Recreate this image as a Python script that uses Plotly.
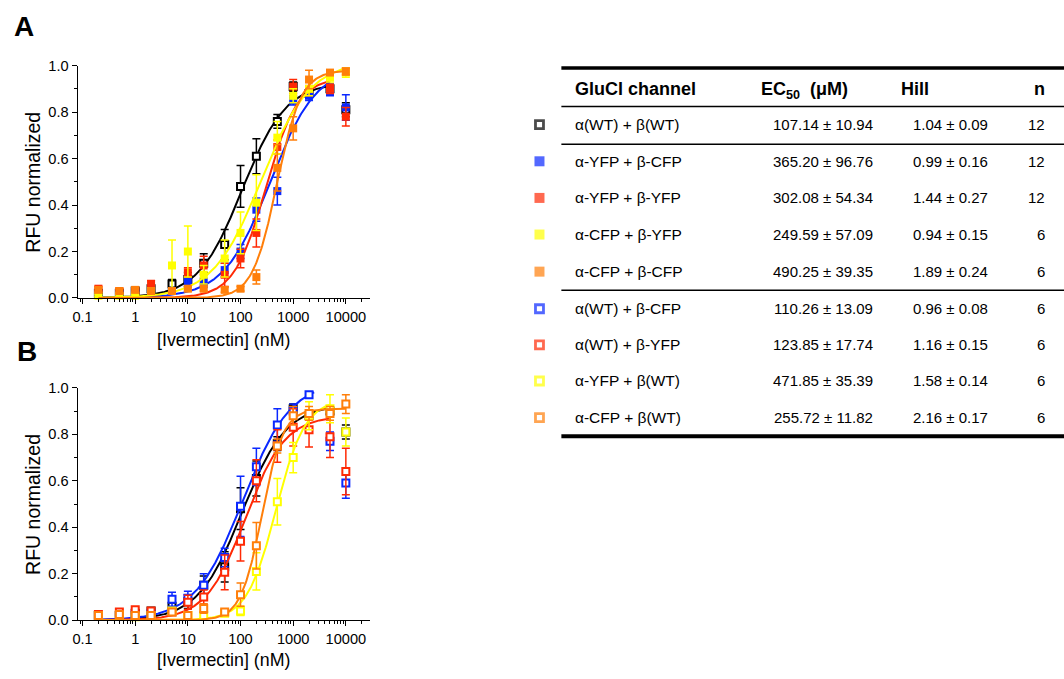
import numpy as np
import plotly.graph_objects as go

# ---------------- data ----------------
conc = [0.2, 0.5, 1, 2, 5, 10, 20, 50, 100, 200, 500, 1000, 2000, 5000, 10000]

# Panel A
a_wt_wt = [0.02, 0.02, 0.03, 0.04, 0.06, 0.08, 0.15, 0.23, 0.48, 0.61, 0.76, 0.91, 0.88, 0.90, 0.81]
a_wt_wt_err = [0.01, 0.01, 0.01, 0.01, 0.02, 0.03, 0.04, 0.065, 0.09, 0.075, 0.03, 0.02, 0.02, 0.02, 0.03]
a_yfp_cfp = [0.02, 0.02, 0.02, 0.03, 0.03, 0.07, 0.065, 0.12, 0.20, 0.38, 0.46, 0.85, 0.87, 0.89, 0.82]
a_yfp_cfp_err = [0.01, 0.01, 0.01, 0.01, 0.01, 0.02, 0.02, 0.03, 0.03, 0.05, 0.06, 0.02, 0.02, 0.02, 0.055]
a_yfp_yfp = [0.04, 0.03, 0.03, 0.06, 0.03, 0.11, 0.14, 0.10, 0.17, 0.28, 0.65, 0.91, 0.90, 0.90, 0.78]
a_yfp_yfp_err = [0.01, 0.01, 0.01, 0.015, 0.01, 0.02, 0.04, 0.05, 0.04, 0.06, 0.03, 0.03, 0.03, 0.02, 0.04]
a_cfp_yfp = [0.01, 0.01, 0.01, 0.03, 0.14, 0.20, 0.10, 0.17, 0.28, 0.41, 0.69, 0.87, 0.90, 0.95, 0.97]
a_cfp_yfp_err = [0.005, 0.005, 0.005, 0.01, 0.11, 0.11, 0.04, 0.08, 0.09, 0.12, 0.07, 0.03, 0.03, 0.02, 0.02]
a_cfp_cfp = [0.035, 0.03, 0.035, 0.03, 0.03, 0.04, 0.04, 0.035, 0.04, 0.09, 0.56, 0.73, 0.94, 0.97, 0.975]
a_cfp_cfp_err = [0.01, 0.01, 0.01, 0.01, 0.01, 0.01, 0.01, 0.01, 0.01, 0.03, 0.10, 0.05, 0.04, 0.01, 0.015]

# Panel B
b_wt_wt = a_wt_wt
b_wt_wt_err = a_wt_wt_err
b_wt_cfp = [0.02, 0.02, 0.02, 0.03, 0.09, 0.095, 0.15, 0.27, 0.49, 0.66, 0.84, 0.90, 0.97, 0.77, 0.59]
b_wt_cfp_err = [0.01, 0.01, 0.01, 0.01, 0.03, 0.03, 0.05, 0.04, 0.13, 0.08, 0.07, 0.03, 0.01, 0.04, 0.065]
b_wt_yfp = [0.025, 0.035, 0.045, 0.04, 0.035, 0.077, 0.10, 0.206, 0.34, 0.60, 0.75, 0.83, 0.82, 0.79, 0.64]
b_wt_yfp_err = [0.01, 0.01, 0.01, 0.01, 0.01, 0.03, 0.03, 0.075, 0.085, 0.09, 0.07, 0.08, 0.075, 0.09, 0.10]
b_yfp_wt = [0.02, 0.02, 0.015, 0.02, 0.04, 0.02, 0.02, 0.03, 0.04, 0.21, 0.51, 0.70, 0.88, 0.91, 0.81]
b_yfp_wt_err = [0.005, 0.005, 0.005, 0.005, 0.01, 0.01, 0.01, 0.01, 0.02, 0.08, 0.10, 0.065, 0.06, 0.06, 0.06]
b_cfp_wt = [0.02, 0.025, 0.02, 0.02, 0.035, 0.02, 0.05, 0.035, 0.11, 0.32, 0.75, 0.88, 0.89, 0.89, 0.93]
b_cfp_wt_err = [0.005, 0.005, 0.005, 0.005, 0.01, 0.01, 0.02, 0.01, 0.05, 0.10, 0.03, 0.04, 0.03, 0.03, 0.04]

# Table
channels = ["α(WT) + β(WT)", "α-YFP + β-CFP", "α-YFP + β-YFP", "α-CFP + β-YFP", "α-CFP + β-CFP",
            "α(WT) + β-CFP", "α(WT) + β-YFP", "α-YFP + β(WT)", "α-CFP + β(WT)"]
ec50 = [107.14, 365.20, 302.08, 249.59, 490.25, 110.26, 123.85, 471.85, 255.72]
ec50_sem = [10.94, 96.76, 54.34, 57.09, 39.35, 13.09, 17.74, 35.39, 11.82]
hill = [1.04, 0.99, 1.44, 0.94, 1.89, 0.96, 1.16, 1.58, 2.16]
hill_sem = [0.09, 0.16, 0.27, 0.15, 0.24, 0.08, 0.15, 0.14, 0.17]
n_cells = [12, 12, 12, 6, 6, 6, 6, 6, 6]
# fitted plateau and last concentration of each drawn fit
fit_top = [0.93, 1.00, 0.95, 1.02, 0.98, 1.03, 0.88, 0.95, 0.91]
fit_end = [5000, 5000, 5000, 10000, 10000, 2500, 5000, 5000, 10000]

x_ticks = [0.1, 1, 10, 100, 1000, 10000]
x_tick_labels = ["0.1", "1", "10", "100", "1000", "10000"]
y_ticks = [0.0, 0.2, 0.4, 0.6, 0.8, 1.0]
y_tick_labels = ["0.0", "0.2", "0.4", "0.6", "0.8", "1.0"]

# ---------------- style ----------------
BLACK = "#000000"
BLUE = "#0a28ff"
RED = "#ff2a05"
YELLOW = "#ffff00"
ORANGE = "#ff7f0a"
FONT = "Liberation Sans, Arial, sans-serif"
W, H = 1064, 679

colors = [BLACK, BLUE, RED, YELLOW, ORANGE, BLUE, RED, YELLOW, ORANGE]
filled = [False, True, True, True, True, False, False, False, False]


def px(x):
    return x / W


def py(y):
    return 1 - y / H


fig = go.Figure()


def add_series(y, err, color, solid, xa, ya, idx):
    e = ec50[idx]
    h = hill[idx]
    top = fit_top[idx]
    xs = np.logspace(np.log10(conc[0]), np.log10(fit_end[idx]), 300)
    ys = top / (1 + (e / xs) ** h)
    fig.add_trace(go.Scatter(x=xs.tolist(), y=ys.tolist(), mode="lines",
                             line=dict(color=color, width=2),
                             xaxis=xa, yaxis=ya, showlegend=False, hoverinfo="skip"))
    fig.add_trace(go.Scatter(
        x=conc, y=y, mode="markers", xaxis=xa, yaxis=ya, showlegend=False, cliponaxis=False,
        error_y=dict(type="data", array=err, visible=True, color=color, thickness=1.5, width=4),
        marker=dict(symbol="square", size=8 if solid else 7,
                    color=color if solid else "white",
                    line=dict(color=color, width=0 if solid else 2))))


# Panel A: black, blue, red, yellow, orange
add_series(a_wt_wt, a_wt_wt_err, BLACK, False, "x", "y", 0)
add_series(a_yfp_cfp, a_yfp_cfp_err, BLUE, True, "x", "y", 1)
add_series(a_yfp_yfp, a_yfp_yfp_err, RED, True, "x", "y", 2)
add_series(a_cfp_yfp, a_cfp_yfp_err, YELLOW, True, "x", "y", 3)
add_series(a_cfp_cfp, a_cfp_cfp_err, ORANGE, True, "x", "y", 4)

# Panel B
add_series(b_wt_wt, b_wt_wt_err, BLACK, False, "x2", "y2", 0)
add_series(b_wt_cfp, b_wt_cfp_err, BLUE, False, "x2", "y2", 5)
add_series(b_wt_yfp, b_wt_yfp_err, RED, False, "x2", "y2", 6)
add_series(b_yfp_wt, b_yfp_wt_err, YELLOW, False, "x2", "y2", 7)
add_series(b_cfp_wt, b_cfp_wt_err, ORANGE, False, "x2", "y2", 8)

# ---------------- axes ----------------
xcommon = dict(type="log", range=[-1.093, 4.464], showline=True, linecolor=BLACK, linewidth=1.3,
               ticks="outside", ticklen=5, tickwidth=1.3, tickcolor=BLACK,
               tickmode="array", tickvals=x_ticks, ticktext=x_tick_labels,
               tickfont=dict(family=FONT, size=14.6, color=BLACK),
               showgrid=False, zeroline=False,
               minor=dict(dtick="D1", ticks="outside", ticklen=3,
                          tickwidth=1, tickcolor=BLACK, showgrid=False),
               domain=[px(73), px(367)])
ycommon = dict(range=[0, 1.0], showline=True, linecolor=BLACK, linewidth=1.3,
               ticks="outside", ticklen=5, tickwidth=1.3, tickcolor=BLACK,
               tickmode="array", tickvals=y_ticks, ticktext=y_tick_labels,
               tickfont=dict(family=FONT, size=14.6, color=BLACK),
               showgrid=False, zeroline=False,
               minor=dict(dtick=0.1, ticks="outside",
                          ticklen=3, tickwidth=1, tickcolor=BLACK, showgrid=False))

fig.update_layout(
    xaxis=dict(**xcommon, anchor="y"),
    yaxis=dict(**ycommon, anchor="x", domain=[py(297), py(59)]),
    xaxis2=dict(**xcommon, anchor="y2"),
    yaxis2=dict(**ycommon, anchor="x2", domain=[py(627), py(389)]),
    xaxis3=dict(range=[520, W], domain=[px(520), 1], visible=False, anchor="y3", fixedrange=True),
    yaxis3=dict(range=[H, 0], domain=[0, 1], visible=False, anchor="x3", fixedrange=True),
)

# ---------------- table ----------------
row_y = [119.5, 157, 194.5, 232, 270, 308, 345, 382, 419.5]
fig.add_trace(go.Scatter(
    x=[537] * len(channels), y=row_y, mode="markers", xaxis="x3", yaxis="y3", showlegend=False,
    hoverinfo="skip", cliponaxis=False,
    marker=dict(symbol="square", size=[10 if f else 8 for f in filled],
                color=[c if f else "white" for c, f in zip(colors, filled)],
                line=dict(color=colors, width=[0 if f else 2.8 for f in filled]))))

ann = []
shapes = []


def text(x, y, s, size=14, anchor="left", bold=False, angle=0):
    ann.append(dict(x=px(x), y=py(y), xref="paper", yref="paper", text=f"<b>{s}</b>" if bold else s,
                    showarrow=False, xanchor=anchor, yanchor="middle", textangle=angle,
                    font=dict(family=FONT, size=size, color=BLACK)))


def hline(y, x0, x1, w, color=BLACK):
    shapes.append(dict(type="line", xref="paper", yref="paper", x0=px(x0), x1=px(x1),
                       y0=py(y), y1=py(y), line=dict(color=color, width=w)))


hline(61.5, 559, 1064, 3.5)
hline(101, 559, 1064, 1.5)
hline(139.5, 559, 1064, 1.5)
hline(289, 559, 1064, 1.5)
hline(438.5, 559, 1064, 4)

text(571, 83, "GluCl channel", 18, bold=True)
text(758, 84, "EC<sub>50</sub>  (μM)", 18, bold=True)
text(898, 83, "Hill", 18, bold=True)
text(1047, 83, "n", 18, anchor="right", bold=True)

for i, name in enumerate(channels):
    y = row_y[i]
    text(571, y, name, 15.5)
    text(874, y, f"{ec50[i]:.2f} ± {ec50_sem[i]:.2f}", 15, anchor="right")
    text(990, y, f"{hill[i]:.2f} ± {hill_sem[i]:.2f}", 15, anchor="right")
    text(1047, y, f"{n_cells[i]}", 15, anchor="right")

# panel letters and axis titles
text(19.5, 19, "A", 28, anchor="center", bold=True)
text(22.5, 352, "B", 28, anchor="center", bold=True)
text(220, 340, "[Ivermectin] (nM)", 17.8, anchor="center")
text(220, 668, "[Ivermectin] (nM)", 17.8, anchor="center")
text(28, 178, "RFU normalized", 19.5, anchor="center", angle=-90)
text(28, 508, "RFU normalized", 19.5, anchor="center", angle=-90)

fig.update_layout(annotations=ann, shapes=shapes, width=W, height=H,
                  margin=dict(l=0, r=0, t=0, b=0), paper_bgcolor="white",
                  plot_bgcolor="rgba(0,0,0,0)", showlegend=False)

fig.write_html("out.html", config={"displayModeBar": False})
